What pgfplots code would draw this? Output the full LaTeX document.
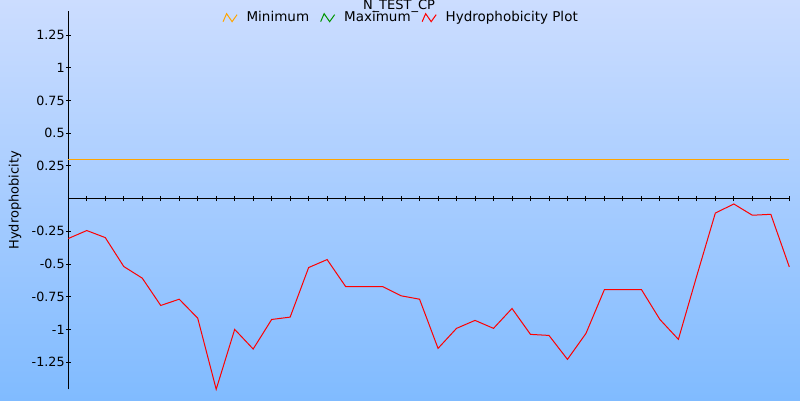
\documentclass[border=0pt]{standalone}
\usepackage{fontspec}
\setmainfont{DejaVu Sans}
\usepackage{pgfplots}
\pgfplotsset{compat=1.18}
\definecolor{bgtop}{RGB}{204,221,255}
\definecolor{bgbot}{RGB}{128,187,255}
\definecolor{minorange}{RGB}{255,165,0}
\definecolor{maxgreen}{RGB}{0,150,0}
\begin{document}
\fontsize{13}{15.5}\selectfont
\begin{tikzpicture}
\useasboundingbox (0,0) rectangle (800pt,400pt);
\fill[top color=bgtop,bottom color=bgbot] (0,0) rectangle (800pt,400pt);
\begin{axis}[
  at={(68.3pt,10.7pt)}, anchor=south west,
  width=721pt, height=378.6pt, scale only axis,
  xmin=0, xmax=39, ymin=-1.458, ymax=1.437,
  axis lines=middle,
  axis line style={-, line width=1pt, black},
  clip=false,
  xtick={0,...,39}, xticklabels={},
  ytick={-1.25,-1,-0.75,-0.5,-0.25,0.25,0.5,0.75,1,1.25},
  yticklabels={-1.25,-1,-0.75,-0.5,-0.25,0.25,0.5,0.75,1,1.25},
  /pgf/number format/assume math mode=true,
  tick align=center,
  major tick length=5pt,
  tick style={black, line width=0.9pt},
  yticklabel style={inner sep=1pt, font=\fontsize{12.7}{15}\selectfont},
  ylabel={Hydrophobicity},
  every axis y label/.style={at={(axis description cs:-0.0739,0.499)}, rotate=90, anchor=center},
  legend style={at={(axis description cs:0.4617,0.9816)}, anchor=center,
    draw=none, fill=none, legend columns=-1, inner sep=0pt,
    font=\fontsize{13.5}{16}\selectfont,
    /tikz/every odd column/.append style={column sep=7pt},
    /tikz/every even column/.append style={column sep=9pt}},
  legend image code/.code={\draw[#1] (0pt,-4pt)--(3.5pt,4pt)--(9pt,-4pt)--(14pt,3pt);},
]
\addplot[minorange, line width=1pt] coordinates {(0,0.298) (39,0.298)};
\addlegendentry{Minimum}
\addlegendimage{maxgreen, line width=1pt}
\addlegendentry{Maximum}
\addplot[red, line width=1pt] coordinates {
(0,-0.305) (1,-0.244) (2,-0.298) (3,-0.519) (4,-0.608) (5,-0.817)
(6,-0.769) (7,-0.914) (8,-1.458) (9,-1.000) (10,-1.150) (11,-0.924)
(12,-0.906) (13,-0.527) (14,-0.466) (15,-0.672) (16,-0.672) (17,-0.672)
(18,-0.743) (19,-0.769) (20,-1.145) (21,-0.992) (22,-0.931) (23,-0.992)
(24,-0.840) (25,-1.038) (26,-1.046) (27,-1.229) (28,-1.031) (29,-0.695)
(30,-0.695) (31,-0.695) (32,-0.924) (33,-1.076) (34,-0.588) (35,-0.110)
(36,-0.041) (37,-0.127) (38,-0.120) (39,-0.522)};
\addlegendentry{Hydrophobicity Plot}
\end{axis}
\node[anchor=base] at (399pt,390.5pt) {N\_TEST\_CP};
\end{tikzpicture}
\end{document}
